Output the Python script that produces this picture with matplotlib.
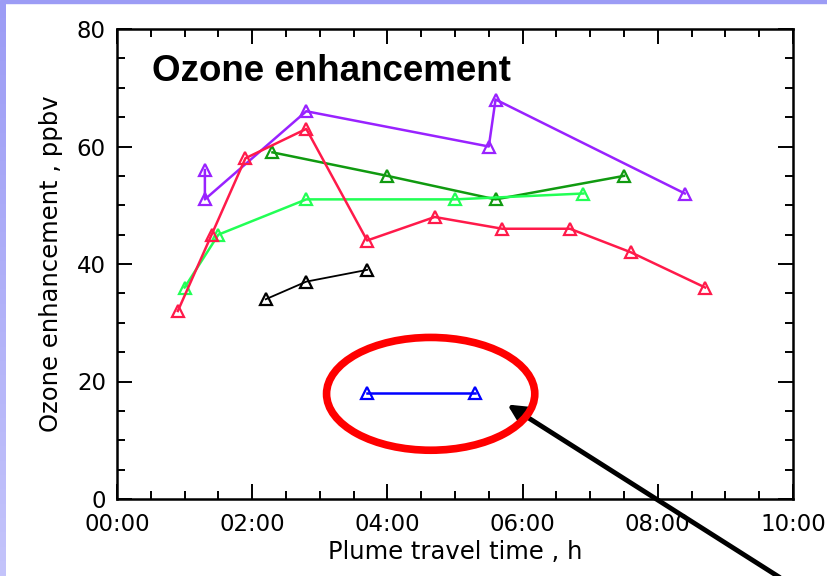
import numpy as np
import matplotlib.pyplot as plt
from matplotlib.patches import Ellipse, Rectangle
from matplotlib.ticker import MultipleLocator, FuncFormatter

# travel time (h) and ozone enhancement (ppbv) per plume
purple_t = [1.3, 1.3, 2.8, 5.5, 5.6, 8.4]
purple_o3 = [56, 51, 66, 60, 68, 52]

red_t = [0.9, 1.4, 1.9, 2.8, 3.7, 4.7, 5.7, 6.7, 7.6, 8.7]
red_o3 = [32, 45, 58, 63, 44, 48, 46, 46, 42, 36]

dgreen_t = [2.3, 4.0, 5.6, 7.5]
dgreen_o3 = [59, 55, 51, 55]

lgreen_t = [1.0, 1.5, 2.8, 5.0, 6.9]
lgreen_o3 = [36, 45, 51, 51, 52]

black_t = [2.2, 2.8, 3.7]
black_o3 = [34, 37, 39]

blue_t = [3.7, 5.3]
blue_o3 = [18, 18]

series = [
    (purple_t, purple_o3, '#9922ff'),
    (dgreen_t, dgreen_o3, '#109a10'),
    (lgreen_t, lgreen_o3, '#22ff55'),
    (red_t, red_o3, '#ff1a4a'),
    (black_t, black_o3, 'black'),
    (blue_t, blue_o3, '#0000ff'),
]

fig = plt.figure(figsize=(8.27, 5.76), dpi=100)

# slide border: lavender strip on top and a fading one on the left
fig.patches.append(Rectangle((0, 1 - 3 / 576), 1, 3 / 576, transform=fig.transFigure,
                             color='#9c9cf5', zorder=0))
grad = np.linspace(0, 1, 256).reshape(-1, 1)
bax = fig.add_axes([0, 0, 6 / 827, 1 - 3 / 576])
bax.imshow(grad, aspect='auto', cmap=plt.matplotlib.colors.LinearSegmentedColormap.from_list(
    'lav', ['#9c9cf5', '#c4c4fb']), extent=[0, 1, 0, 1])
bax.axis('off')

ax = fig.add_axes([117 / 827, 1 - 499 / 576, (793 - 117) / 827, (499 - 29) / 576])

for t, o3, c in series:
    lw = 1.3 if c == 'black' else 1.8
    ax.plot(t, o3, color=c, lw=lw, marker='^', markersize=9, markerfacecolor='none',
            markeredgecolor=c, markeredgewidth=1.6)

ax.set_xlim(0, 10)
ax.set_ylim(0, 80)
ax.xaxis.set_major_locator(MultipleLocator(2))
ax.xaxis.set_minor_locator(MultipleLocator(0.5))
ax.yaxis.set_major_locator(MultipleLocator(20))
ax.yaxis.set_minor_locator(MultipleLocator(5))
ax.xaxis.set_major_formatter(FuncFormatter(lambda v, p: '%02d:00' % int(round(v))))
ax.tick_params(which='both', direction='in', top=True, right=True, width=1.4, labelsize=16.5)
ax.tick_params(which='major', length=11, pad=8)
ax.tick_params(axis='x', which='major', pad=10)
ax.tick_params(which='minor', length=6)
for s in ax.spines.values():
    s.set_linewidth(1.8)

ax.set_xlabel('Plume travel time , h', fontsize=17.5, labelpad=3)
ax.set_ylabel('Ozone enhancement , ppbv', fontsize=17.5, labelpad=10)

ax.text(0.052, 0.91, 'Ozone enhancement', transform=ax.transAxes, fontsize=26.5,
        fontweight='bold', family='Liberation Sans', va='center', ha='left')

# highlight around the blue plume
ax.add_patch(Ellipse((4.64, 17.9), 3.08, 19.2, fill=False, edgecolor='#ff0000', lw=5.5,
                     clip_on=False, zorder=5))

ax.annotate('', xy=(505 / 827, 1 - 403 / 576), xycoords='figure fraction',
            xytext=(782 / 827, -0.005), textcoords='figure fraction',
            arrowprops=dict(arrowstyle='-|>', color='black', lw=3.5, mutation_scale=26),
            annotation_clip=False)

plt.savefig('out.png', dpi=100)
